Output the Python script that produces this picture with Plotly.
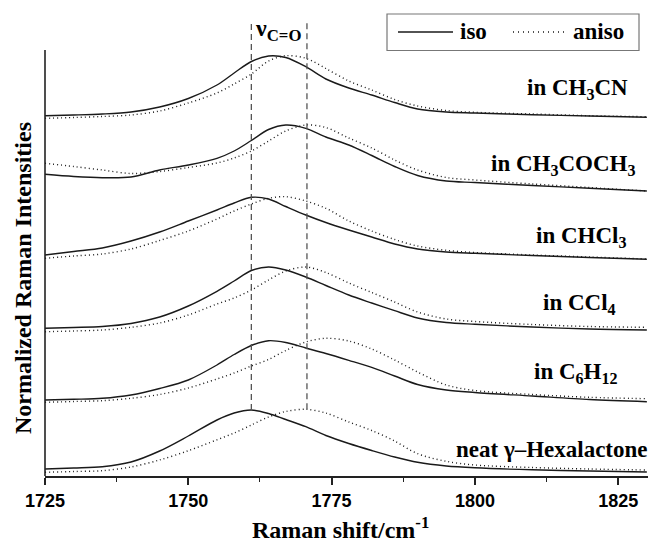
import plotly.graph_objects as go

# ---------------- data (stacked normalized intensities, arbitrary units) ----------------
wavenumber = [1725, 1730, 1735, 1740, 1745, 1750, 1755, 1758, 1761, 1764, 1767, 1770.5,
              1774, 1778, 1782, 1786, 1790, 1795, 1800, 1810, 1820, 1830]

iso_ch3cn = [360.3, 361, 362, 364, 369, 377.5, 391, 403, 414.5, 420, 418.5, 409.3,
             397, 388, 381, 373.5, 367, 364, 363, 361.3, 360, 358.7]
aniso_ch3cn = [357.7, 358.5, 359.5, 361, 365, 373, 383, 392, 402, 415, 420.3, 417.7,
               407.5, 395, 386, 376.5, 370, 365.5, 363.7, 362, 360.3, 359.3]

iso_acetone = [301.7, 299.5, 298.3, 299, 306, 311, 317.7, 325, 335.5, 346.5, 351, 347.7,
               339, 331, 320.5, 309.5, 300.5, 295, 293.5, 290.5, 287.7, 285]
aniso_acetone = [312.7, 309.5, 306, 302.5, 304.5, 308.5, 313, 318, 325, 335, 345, 351,
                 348.5, 338, 328, 316, 306, 298.5, 296, 292, 288.5, 285]

iso_chcl3 = [221, 224.5, 228, 235, 244, 255, 266, 273, 278.7, 277, 269.5, 261,
             253.5, 246, 239, 232, 227, 224, 222.7, 220.5, 218.5, 216.7]
aniso_chcl3 = [217.7, 220, 222, 227, 235.5, 245, 257, 265, 272, 277.7, 279.3, 275,
               267.7, 255, 245, 236.5, 230, 225.7, 223.5, 221, 219, 217]

iso_ccl4 = [147.7, 148.5, 149.5, 152.5, 159, 170, 184.7, 195, 205.5, 209, 206, 199,
            190.5, 181, 173, 165.3, 158, 153.5, 151.7, 149, 147, 146]
aniso_ccl4 = [144.3, 145, 146, 148.7, 153, 161, 172, 178, 186, 196, 205, 209,
              203.5, 193, 183.5, 174, 164, 157, 154.5, 151.5, 149.5, 148.7]

iso_c6h12 = [76, 76.7, 77.7, 81, 87.5, 96, 111, 121.5, 130.5, 135.3, 133.5, 128,
             122.5, 115.7, 108.6, 100, 91.5, 86, 83.5, 80, 76.5, 74.3]
aniso_c6h12 = [73.7, 74.5, 75.3, 77.7, 81.5, 88, 97, 103, 110, 116.5, 125.5, 134,
               137.7, 135, 127, 116, 104, 91, 85.5, 81.5, 78.7, 77.3]

iso_neat = [7, 8, 9.3, 14, 25, 40, 56, 63, 66, 62.5, 56.5, 49.3,
            40.5, 32.5, 25.5, 19, 13.7, 10, 8.2, 6.2, 5, 4]
aniso_neat = [3.7, 4.5, 5.3, 9, 16, 25.3, 36.2, 43, 51, 59, 64.5, 66.7,
              63, 54, 45.5, 35, 22.3, 14.7, 11, 8.5, 7, 6]

series_labels = ["in CH<sub>3</sub>CN", "in CH<sub>3</sub>COCH<sub>3</sub>", "in CHCl<sub>3</sub>",
                 "in CCl<sub>4</sub>", "in C<sub>6</sub>H<sub>12</sub>", "neat \u03b3\u2013Hexalactone"]
iso_series = [iso_ch3cn, iso_acetone, iso_chcl3, iso_ccl4, iso_c6h12, iso_neat]
aniso_series = [aniso_ch3cn, aniso_acetone, aniso_chcl3, aniso_ccl4, aniso_c6h12, aniso_neat]

marker_lines = [1761, 1770.7]          # nu C=O reference positions
marker_line_bottoms = [66, 66.7]

x_ticks = [1725, 1750, 1775, 1800, 1825]

# ---------------- layout helpers (positions / styles) ----------------
def px_x(px):
    return (px - 45) / 603.0

def px_y(py):
    return (476 - py) / 456.0

# label right edges / centres in picture pixels
label_pos = [(630, 89), (638, 165), (628, 237), (618, 304), (620, 373), (650, 449)]

SERIF = "Liberation Serif, Times New Roman, serif"
SANS = "Liberation Sans, Arial, sans-serif"
LINE_COLOR = "#1a1a1a"

fig = go.Figure()
for iso, aniso in zip(iso_series, aniso_series):
    fig.add_trace(go.Scatter(x=wavenumber, y=iso, mode="lines", showlegend=False,
                             line=dict(color=LINE_COLOR, width=1.4, shape="spline", smoothing=0.9)))
    fig.add_trace(go.Scatter(x=wavenumber, y=aniso, mode="lines", showlegend=False,
                             line=dict(color=LINE_COLOR, width=1.4, shape="spline", smoothing=0.9,
                                       dash="1px,3px")))

shapes = []
# y axis line (plot area extends above it for the marker lines)
shapes.append(dict(type="line", xref="paper", yref="y", x0=0, x1=0, y0=0, y1=426,
                   line=dict(color="#222", width=1.6)))
for xv, yb in zip(marker_lines, marker_line_bottoms):
    shapes.append(dict(type="line", xref="x", yref="y", x0=xv, x1=xv, y0=yb, y1=456,
                       line=dict(color="#555", width=1.3, dash="6px,4px")))

# manual legend box
shapes.append(dict(type="rect", xref="paper", yref="paper", x0=px_x(387), x1=px_x(639),
                   y0=px_y(50.5), y1=px_y(14), line=dict(color="#777", width=1.2),
                   fillcolor="white", layer="above"))
shapes.append(dict(type="line", xref="paper", yref="paper", x0=px_x(398), x1=px_x(453),
                   y0=px_y(32), y1=px_y(32), line=dict(color=LINE_COLOR, width=1.3), layer="above"))
shapes.append(dict(type="line", xref="paper", yref="paper", x0=px_x(513), x1=px_x(567),
                   y0=px_y(32), y1=px_y(32), line=dict(color=LINE_COLOR, width=1.3, dash="1px,4px"),
                   layer="above"))

annotations = []
for text, (lx, ly) in zip(series_labels, label_pos):
    annotations.append(dict(x=px_x(lx), y=px_y(ly), xref="paper", yref="paper",
                            text="<b>" + text + "</b>",
                            showarrow=False, xanchor="right", yanchor="middle",
                            font=dict(family=SERIF, size=23, color="#000")))
annotations.append(dict(x=px_x(458), y=px_y(32), xref="paper", yref="paper", text="<b>iso</b>",
                        showarrow=False, xanchor="left", yanchor="middle",
                        font=dict(family=SERIF, size=23, color="#000")))
annotations.append(dict(x=px_x(571), y=px_y(32), xref="paper", yref="paper", text="<b>aniso</b>",
                        showarrow=False, xanchor="left", yanchor="middle",
                        font=dict(family=SERIF, size=23, color="#000")))
annotations.append(dict(x=px_x(278), y=px_y(30), xref="paper", yref="paper",
                        text="<b>\u03bd<sub>C=O</sub></b>",
                        showarrow=False, xanchor="center", yanchor="middle",
                        font=dict(family=SERIF, size=24, color="#000")))
annotations.append(dict(x=px_x(340), y=px_y(528), xref="paper", yref="paper",
                        text="<b>Raman shift/cm<sup>-1</sup></b>", showarrow=False,
                        xanchor="center", yanchor="middle",
                        font=dict(family=SERIF, size=24, color="#000")))
annotations.append(dict(x=px_x(23), y=px_y(278), xref="paper", yref="paper",
                        text="<b>Normalized Raman Intensities</b>", showarrow=False, textangle=-90,
                        xanchor="center", yanchor="middle",
                        font=dict(family=SERIF, size=24, color="#000")))

fig.update_layout(
    width=651, height=544,
    margin=dict(l=45, r=3, t=20, b=68),
    paper_bgcolor="white", plot_bgcolor="white",
    shapes=shapes, annotations=annotations,
    showlegend=False,
    xaxis=dict(range=[1725, 1830.2], tickvals=x_ticks, ticks="outside", ticklen=7, tickwidth=1.6,
               tickcolor="#222", showline=True, linecolor="#222", linewidth=2, showgrid=False,
               zeroline=False, tickfont=dict(family=SANS, size=18, color="#000", weight="bold"),
               minor=dict(tickvals=[1737.5, 1762.5, 1787.5, 1812.5], ticks="outside", ticklen=4,
                          tickwidth=1.4, tickcolor="#222", showgrid=False)),
    yaxis=dict(range=[0, 456], showticklabels=False, ticks="", showline=False, showgrid=False,
               zeroline=False),
)

fig.write_html("out.html")
